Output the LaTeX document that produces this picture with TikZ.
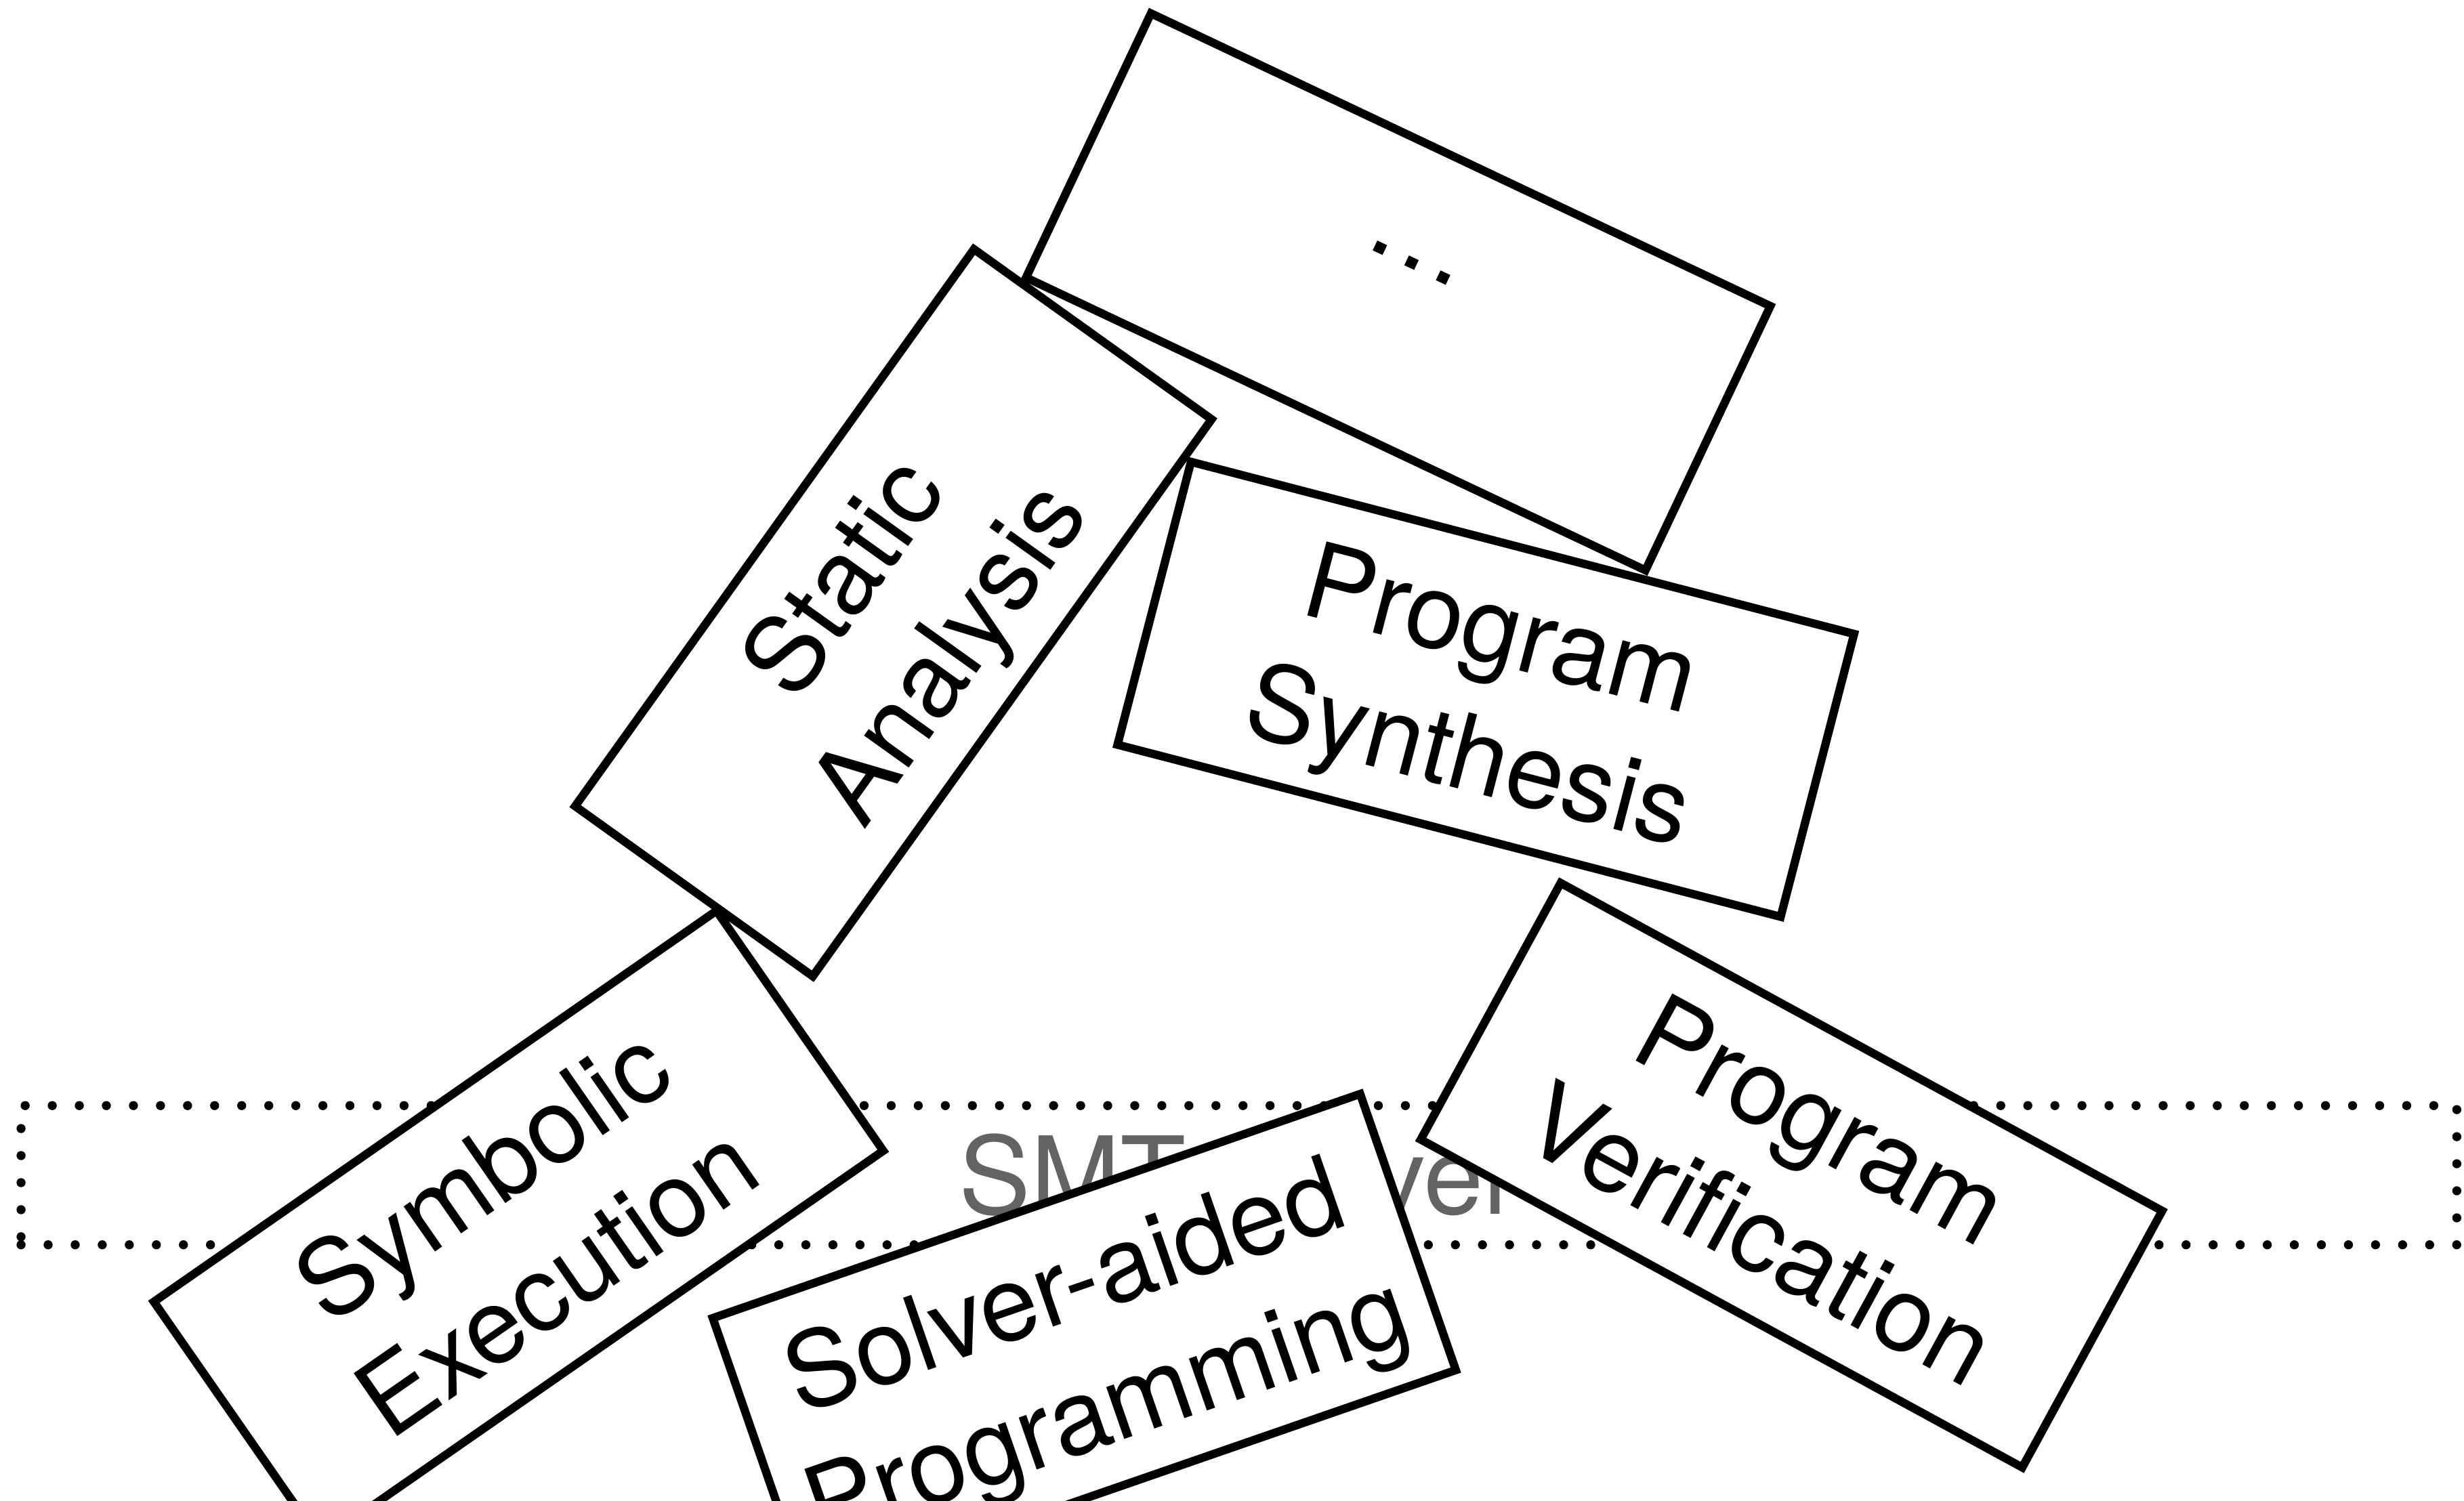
\documentclass[tikz,border=0pt]{standalone}
\usepackage{fontspec}
\setmainfont{TeX Gyre Heros}[Ligatures=NoCommon]
\definecolor{smtgray}{RGB}{99,99,99}
\newcommand{\linestrut}{\rule[-0.21em]{0pt}{1.16em}}
\newcommand{\twolines}[2]{\linestrut#1\\\linestrut#2}

\begin{document}
\begin{tikzpicture}
[font=\fontsize{19pt}{23.5pt}\selectfont]
\tikzstyle{topic}=[rectangle, draw, fill=white, line width=1.5pt, align=center, inner sep=0pt, minimum width=4.36cm, minimum height=1.86cm]
\tikzstyle{layer}=[rectangle, draw, line width=1.64pt, line cap=round, dash pattern=on 0pt off 4.9pt, inner sep=0pt, minimum width=15.5cm, minimum height=0.886cm, text=smtgray, font=\fontsize{19.5pt}{23.5pt}\selectfont]
\useasboundingbox (0,0) rectangle (15.68,9.55);
\clip (0,0) rectangle (15.68,9.55);

\node[layer] (smt) at (7.884,2.07) {SMT Solver};

\node[topic, rotate=-25.3] (more) at (8.8975,7.6925) {\twolines{…}{}};
\node[topic, rotate=54.4] (static) at (5.685,5.65) {\twolines{Static}{Analysis}};
\node[topic, rotate=-14.55] (synth) at (9.455,5.1625) {\twolines{Program}{Synthesis}};
\node[topic, rotate=34.8] (symex) at (3.30,1.745) {\twolines{Symbolic}{Execution}};
\node[topic, rotate=19.1] (sap) at (6.90,0.995) {\twolines{Solver-aided}{Programming}};
\node[topic, rotate=-28.6] (verif) at (11.40,2.07) {\twolines{Program}{Verification}};
\end{tikzpicture}
\end{document}
